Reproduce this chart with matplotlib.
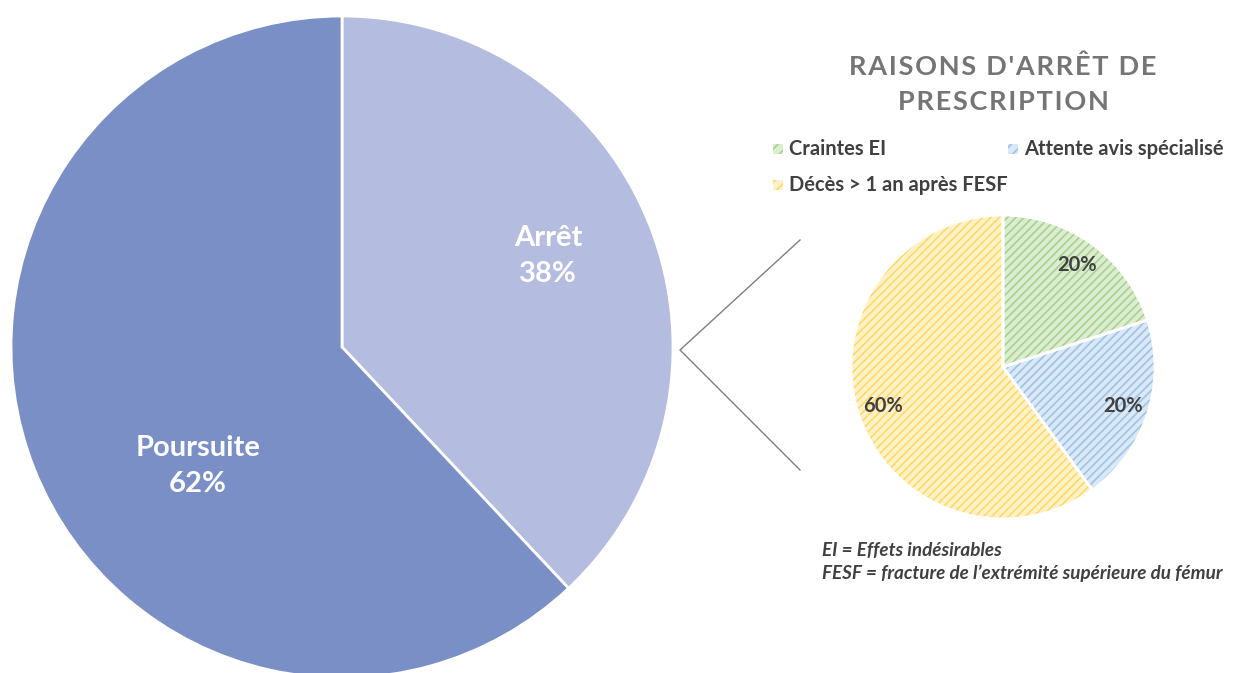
import matplotlib.pyplot as plt
from matplotlib.patches import Rectangle

plt.rcParams['font.family'] = ['Lato', 'DejaVu Sans']
plt.rcParams['hatch.linewidth'] = 1.2

# main split
main_labels = ["Arrêt", "Poursuite"]
main_values = [38, 62]
main_colors = ["#b4bcdf", "#7b8fc7"]

# reasons for stopping
reason_labels = ["Craintes EI", "Attente avis spécialisé", "Décès > 1 an après FESF"]
reason_values = [20, 20, 60]
reason_faces = ["#dcedd2", "#dbe8f6", "#fff1c8"]
reason_hatch = ["#a9d18e", "#9dc3e6", "#ffd966"]

title = "RAISONS D'ARRÊT DE\nPRESCRIPTION"
notes = ["EI = Effets indésirables", "FESF = fracture de l’extrémité supérieure du fémur"]

W, H = 1235, 673
fig = plt.figure(figsize=(W / 100, H / 100), dpi=100)
ax = fig.add_axes([0, 0, 1, 1])

# big pie
big_c = (342, H - 347)
big_r = 331
ax.pie(main_values, colors=main_colors, startangle=90, counterclock=False,
       center=big_c, radius=big_r, frame=True,
       wedgeprops=dict(edgecolor="white", linewidth=2))

main_text_pos = [(548, 256), (198, 466)]
for lab, val, (x, y) in zip(main_labels, main_values, main_text_pos):
    ax.text(x, H - y, f"{lab}\n{val}%", ha="center", va="center", color="white",
            fontsize=21, fontweight="bold", linespacing=1.45)

# small pie, hatched
small_c = (1003, H - 367)
small_r = 152
wedges, _ = ax.pie(reason_values, startangle=90, counterclock=False,
                   center=small_c, radius=small_r, frame=True)
for w, fc, hc in zip(wedges, reason_faces, reason_hatch):
    w.set_facecolor(fc)
    w.set_edgecolor(hc)
    w.set_linewidth(0)
    w.set_hatch("////")
ax.pie(reason_values, startangle=90, counterclock=False, center=small_c,
       radius=small_r, frame=True,
       wedgeprops=dict(fill=False, edgecolor="white", linewidth=2),
       autopct=lambda p: f"{p:.0f}%", pctdistance=0.83,
       textprops=dict(color="#404040", fontsize=14.5, fontweight="bold"))

ax.set_xlim(0, W)
ax.set_ylim(0, H)
ax.set_aspect('equal')
ax.axis('off')

# connector lines
ax.plot([800, 680, 800], [H - 240, H - 350, H - 470], color="#7f7f7f", lw=1)

# title with letter spacing
for i, line in enumerate(title.split("\n")):
    ax.text(1003, H - 67 - i * 35, "\u200a".join(line), ha="center", va="center",
            color="#757575", fontsize=19.5, fontweight="bold")

# legend entries: two on the first row, one on the second
legend_pos = [(773, 149), (1008, 149), (773, 185)]
for (x, y), lab, fc, hc in zip(legend_pos, reason_labels, reason_faces, reason_hatch):
    ax.add_patch(Rectangle((x, H - y - 5), 10, 10, facecolor=fc, edgecolor=hc,
                           hatch="///", linewidth=0))
    ax.text(x + 16, H - y, lab, ha="left", va="center", color="#404040",
            fontsize=14.5, fontweight="bold")

# footnotes
for i, n in enumerate(notes):
    ax.text(822, H - 551 - i * 22, n, ha="left", va="center", color="#404040",
            fontsize=13.6, fontweight="bold", fontstyle="italic")

fig.savefig("out.png", dpi=100)
